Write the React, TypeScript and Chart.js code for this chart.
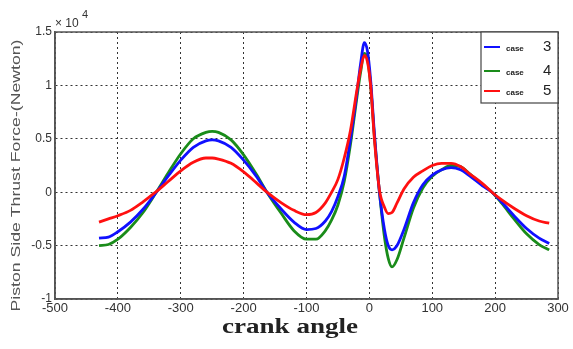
import React, { useEffect, useRef } from "react";
import { Chart, registerables } from "chart.js";

Chart.register(...registerables);

// crank angle samples (deg)
const crankAngle = [-430, -415, -400, -380, -360, -340, -320, -300, -280, -260, -250, -240, -220, -200, -180, -163, -140, -120, -100, -85, -70, -60, -50, -40, -30, -20, -14, -8, -3, 2, 8, 16, 24, 30, 36, 44, 55, 70, 85, 100, 115, 130, 145, 160, 180, 195, 210, 230, 250, 270, 286];

// force in units of 1e4 N
const case3 = [-0.43, -0.42, -0.37, -0.28, -0.16, -0.01, 0.15, 0.30, 0.42, 0.48, 0.49, 0.48, 0.42, 0.30, 0.15, 0.0, -0.16, -0.28, -0.35, -0.34, -0.27, -0.18, -0.04, 0.15, 0.5, 0.92, 1.2, 1.4, 1.32, 1.05, 0.55, 0.0, -0.35, -0.5, -0.54, -0.5, -0.35, -0.1, 0.07, 0.16, 0.21, 0.23, 0.21, 0.15, 0.06, 0.0, -0.09, -0.22, -0.34, -0.43, -0.48];
const case4 = [-0.5, -0.49, -0.44, -0.33, -0.19, -0.01, 0.18, 0.36, 0.5, 0.56, 0.57, 0.56, 0.49, 0.35, 0.17, 0.0, -0.2, -0.36, -0.44, -0.44, -0.36, -0.26, -0.12, 0.1, 0.45, 0.88, 1.12, 1.3, 1.25, 1.0, 0.52, 0.0, -0.42, -0.62, -0.7, -0.63, -0.43, -0.15, 0.04, 0.15, 0.21, 0.25, 0.24, 0.17, 0.07, 0.0, -0.1, -0.25, -0.39, -0.49, -0.54];
const case5 = [-0.28, -0.25, -0.22, -0.17, -0.09, 0.0, 0.1, 0.2, 0.28, 0.32, 0.32, 0.31, 0.27, 0.19, 0.09, 0.0, -0.1, -0.17, -0.21, -0.19, -0.1, 0.0, 0.12, 0.32, 0.58, 0.95, 1.15, 1.28, 1.22, 1.0, 0.5, 0.02, -0.14, -0.2, -0.19, -0.1, 0.03, 0.14, 0.2, 0.25, 0.27, 0.27, 0.24, 0.17, 0.08, 0.0, -0.07, -0.15, -0.22, -0.27, -0.29];

const seriesNames = ["case", "case", "case"];
const seriesNumbers = ["3", "4", "5"];
const seriesColors = ["#1010ff", "#1a8c1a", "#ff1010"];

const xTitle = "crank angle";
const yTitle = "Piston Side Thrust Force-(Newton)";

const toPoints = (ys: number[]) => crankAngle.map((x, i) => ({ x, y: ys[i] }));

const decorPlugin = {
  id: "decor",
  afterDraw(chart: any) {
    const { ctx, chartArea } = chart;
    const { left, right, top, bottom } = chartArea;
    ctx.save();
    // frame
    ctx.strokeStyle = "#555";
    ctx.lineWidth = 1.5;
    ctx.strokeRect(left, top, right - left, bottom - top);

    // exponent
    ctx.fillStyle = "#333";
    ctx.font = "12px 'Liberation Sans', Arial, sans-serif";
    ctx.textBaseline = "alphabetic";
    ctx.textAlign = "left";
    ctx.fillText("\u00d7 10", 55, 27);
    ctx.font = "11px 'Liberation Sans', Arial, sans-serif";
    ctx.fillText("4", 82, 18);

    // y title
    ctx.save();
    ctx.translate(16, (top + bottom) / 2 + 10);
    ctx.rotate(-Math.PI / 2);
    ctx.font = "13px 'Liberation Sans', Arial, sans-serif";
    ctx.fillStyle = "#555";
    const w = ctx.measureText(yTitle).width;
    ctx.scale(272 / w, 1);
    ctx.textAlign = "center";
    ctx.textBaseline = "middle";
    ctx.fillText(yTitle, 0, 0);
    ctx.restore();

    // x title
    ctx.save();
    ctx.font = "bold 20px 'Liberation Serif', 'DejaVu Serif', serif";
    ctx.fillStyle = "#222";
    const wx = ctx.measureText(xTitle).width;
    ctx.translate(290, 333);
    ctx.scale(136 / wx, 1);
    ctx.textAlign = "center";
    ctx.textBaseline = "alphabetic";
    ctx.fillText(xTitle, 0, 0);
    ctx.restore();

    // legend
    const lx = 481, ly = top, lw = right - 481, lh = 71;
    ctx.fillStyle = "#fff";
    ctx.fillRect(lx, ly, lw, lh);
    ctx.strokeStyle = "#444";
    ctx.lineWidth = 1.2;
    ctx.strokeRect(lx, ly, lw, lh);
    const rows = [47, 71, 91];
    rows.forEach((yy, i) => {
      ctx.strokeStyle = seriesColors[i];
      ctx.lineWidth = 2;
      ctx.beginPath();
      ctx.moveTo(484, yy);
      ctx.lineTo(500, yy);
      ctx.stroke();
      ctx.fillStyle = "#222";
      ctx.font = "bold 8px 'Liberation Sans', Arial, sans-serif";
      ctx.textAlign = "left";
      ctx.textBaseline = "middle";
      ctx.fillText(seriesNames[i], 506, yy + 2);
      ctx.font = "15px 'Liberation Sans', Arial, sans-serif";
      ctx.fillText(seriesNumbers[i], 543, yy);
    });
    ctx.restore();
  },
};

export default function App() {
  const ref = useRef<HTMLCanvasElement | null>(null);
  useEffect(() => {
    document.body.style.margin = "0";
    const canvas = ref.current!;
    const chart = new Chart(canvas, {
      type: "line",
      data: {
        datasets: [
          { label: "case 5", data: toPoints(case5), borderColor: seriesColors[2], order: 0 },
          { label: "case 3", data: toPoints(case3), borderColor: seriesColors[0], order: 1 },
          { label: "case 4", data: toPoints(case4), borderColor: seriesColors[1], order: 2 },
        ].map((d) => ({
          ...d,
          borderWidth: 2.8,
          pointRadius: 0,
          fill: false,
          tension: 0.4,
          cubicInterpolationMode: "monotone" as const,
        })),
      },
      options: {
        animation: false,
        responsive: false,
        maintainAspectRatio: false,
        layout: { padding: { left: 0, right: 15, top: 32, bottom: 0 } },
        plugins: { legend: { display: false }, tooltip: { enabled: false } },
        scales: {
          x: {
            type: "linear",
            min: -500,
            max: 300,
            afterFit: (s: any) => { s.height = 50; },
            ticks: {
              stepSize: 100,
              color: "#333",
              font: { size: 13, family: "'Liberation Sans', Arial, sans-serif" },
              padding: 2,
              maxRotation: 0,
            },
            grid: { color: "#333", lineWidth: 1, drawTicks: false },
            border: { display: true, color: "#555", width: 1.5, dash: [2, 3] },
          },
          y: {
            type: "linear",
            min: -1,
            max: 1.5,
            afterFit: (s: any) => { s.width = 55; },
            ticks: {
              stepSize: 0.5,
              color: "#333",
              font: { size: 12, family: "'Liberation Sans', Arial, sans-serif" },
              padding: 3,
              callback: (v: any) => String(Number(v)),
            },
            grid: { color: "#333", lineWidth: 1, drawTicks: false },
            border: { display: true, color: "#555", width: 1.5, dash: [2, 3] },
          },
        },
      },
      plugins: [decorPlugin],
    });
    return () => chart.destroy();
  }, []);
  return <canvas ref={ref} width={573} height={349} style={{ display: "block" }} />;
}
